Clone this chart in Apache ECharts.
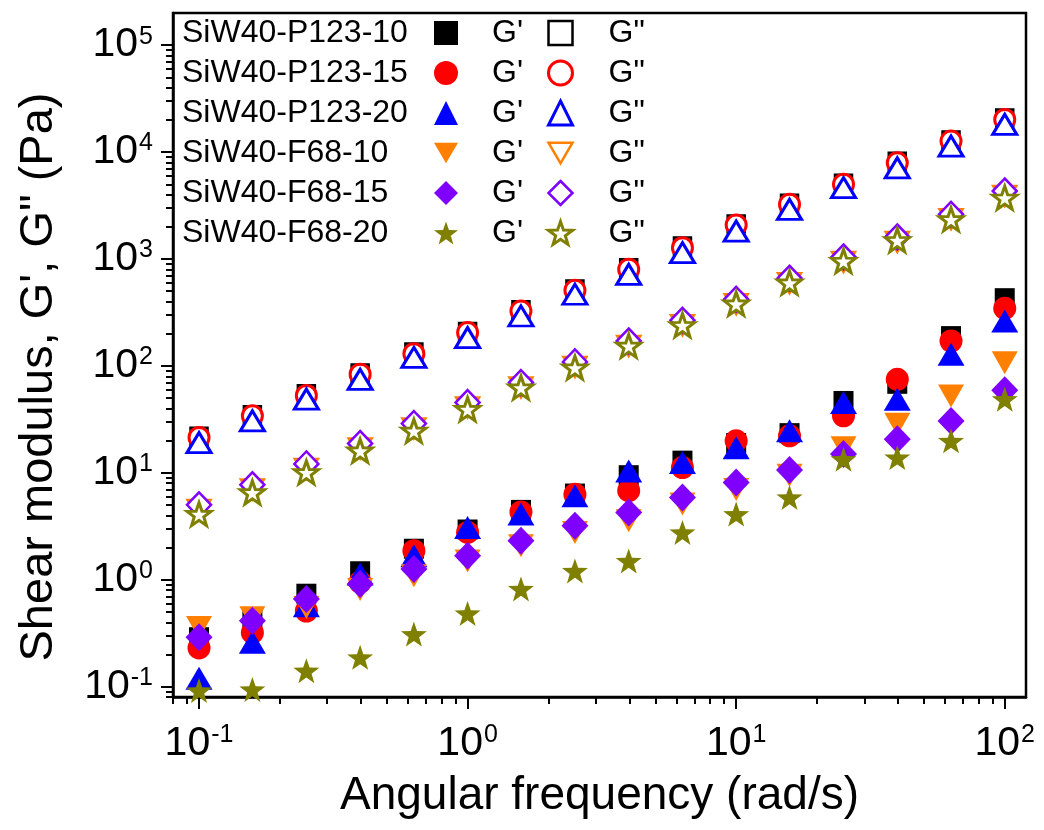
<!DOCTYPE html>
<html>
<head>
<meta charset="utf-8">
<script src="https://cdn.jsdelivr.net/npm/echarts@6/dist/echarts.min.js"></script>
<style>
  html, body { margin: 0; padding: 0; background: #fff; }
  #chart { width: 1044px; height: 830px; }
</style>
</head>
<body>
<div id="chart"></div>
<script>
const FONT = '"Liberation Sans", Arial, sans-serif'

// angular frequency (rad/s)
const freq = [0.1, 0.158, 0.251, 0.398, 0.631, 1, 1.58, 2.51, 3.98, 6.31, 10, 15.8, 25.1, 39.8, 63.1, 100]

// storage modulus G' (Pa)
const p123_10_G1 = [0.29, 0.44, 0.74, 1.2, 1.95, 2.95, 4.5, 6.4, 9.5, 13, 19, 23.5, 47, 68, 190, 430]
const p123_15_G1 = [0.23, 0.32, 0.51, 0.95, 1.87, 2.77, 4.3, 6.3, 6.8, 11.2, 19.9, 22.2, 34.1, 75, 171, 346]
const p123_20_G1 = [0.12, 0.26, 0.57, 1.13, 1.68, 3.08, 4.11, 6.1, 10.4, 12.5, 17.2, 24.7, 45.4, 48.8, 128.6, 263]
const f68_10_G1 = [0.358, 0.44, 0.55, 0.81, 1.09, 1.5, 2.08, 2.77, 3.56, 5.1, 7.0, 9.5, 17.2, 28.5, 52.4, 107]
const f68_15_G1 = [0.289, 0.414, 0.66, 0.91, 1.26, 1.68, 2.31, 3.2, 4.26, 5.88, 8.12, 10.6, 15, 20.6, 30.6, 59.3]
const f68_20_G1 = [0.092, 0.094, 0.141, 0.188, 0.31, 0.484, 0.82, 1.21, 1.5, 2.77, 4.11, 5.88, 13.4, 13.9, 19.9, 48.8]

// loss modulus G'' (Pa)
const p123_10_G2 = [22, 35, 55, 86, 135, 210, 335, 525, 830, 1320, 2120, 3330, 5100, 8200, 13000, 20800]
const p123_15_G2 = [21.4, 34.1, 53, 83.6, 130, 205, 326, 510, 801, 1276, 2080, 3245, 4990, 7945, 12680, 20200]
const p123_20_G2 = [19.2, 30.6, 48.9, 75, 120, 184, 293, 468, 719, 1145, 1827, 2913, 4645, 7130, 11380, 18150]
const f68_10_G2 = [4.5, 7.0, 10.9, 16.9, 26, 41, 63, 98, 154, 240, 378, 595, 940, 1445, 2356, 3890]
const f68_15_G2 = [5.02, 7.73, 12.1, 18.8, 28.9, 45.4, 69.8, 109, 171, 267, 420, 661, 1044, 1606, 2618, 4325]
const f68_20_G2 = [4.11, 6.55, 10.1, 16.1, 24.7, 39.4, 62.7, 96.4, 154, 240, 382, 601, 958, 1496, 2350, 3740]

const sampleNames = ['SiW40-P123-10', 'SiW40-P123-15', 'SiW40-P123-20', 'SiW40-F68-10', 'SiW40-F68-15', 'SiW40-F68-20']
const storage = [p123_10_G1, p123_15_G1, p123_20_G1, f68_10_G1, f68_15_G1, f68_20_G1]
const loss = [p123_10_G2, p123_15_G2, p123_20_G2, f68_10_G2, f68_15_G2, f68_20_G2]

const xTickLabels = [0.1, 1, 10, 100]
const yTickLabels = [0.1, 1, 10, 100, 1000, 10000, 100000]

const STAR = 'path://M50 0L61.76 33.82L97.55 34.55L69.02 56.18L79.39 90.45L50 70L20.61 90.45L30.98 56.18L2.45 34.55L38.24 33.82Z'
const DOWN_TRI = 'path://M0 0L100 0L50 86Z'
const markers = [
  { symbol: 'rect', color: '#000000', size: 20, hollowSize: 17, bw: 2.5 },
  { symbol: 'circle', color: '#ff0000', size: 23, hollowSize: 20, bw: 3 },
  { symbol: 'triangle', color: '#0000ff', size: [27, 23], hollowSize: [24, 20], bw: 3 },
  { symbol: DOWN_TRI, color: '#ff8000', size: [26, 23], hollowSize: [23, 20], bw: 2.5 },
  { symbol: 'diamond', color: '#8000ff', size: [27, 28], hollowSize: [24, 25], bw: 2.5 },
  { symbol: STAR, color: '#808000', size: [26, 25], hollowSize: [24, 23], bw: 3 },
]

function minorTicks(lo, hi) {
  const out = []
  for (let e = lo; e <= hi; e++) {
    for (let k = 2; k <= 9; k++) out.push(k * Math.pow(10, e))
  }
  return out
}
const xMinor = [0.08, 0.09].concat(minorTicks(-1, 1))
const yMinor = [0.08, 0.09].concat(minorTicks(-1, 4))

const supLabel = (v) => `{a|10}{b|${Math.round(Math.log10(v))}}`
const labelRich = {
  a: { fontSize: 41, lineHeight: 42, fontFamily: FONT, color: '#000' },
  b: { fontSize: 25, lineHeight: 25, padding: [0, 0, 17, 1], fontFamily: FONT, color: '#000' },
}

const X_MIN = 0.08, X_MAX = 120, Y_MIN = 0.08, Y_MAX = 200000

function styleFor(m, hollow) {
  return hollow
    ? { color: '#ffffff', borderColor: m.color, borderWidth: m.bw, opacity: 1 }
    : { color: m.color, borderWidth: 0, opacity: 1 }
}

function mk(i, hollow) {
  const m = markers[i]
  const vals = hollow ? loss[i] : storage[i]
  return {
    name: sampleNames[i] + (hollow ? ' G"' : " G'"),
    type: 'scatter',
    xAxisIndex: 0,
    yAxisIndex: 0,
    data: freq.map((f, j) => [f, vals[j]]),
    symbol: m.symbol,
    symbolSize: hollow ? m.hollowSize : m.size,
    itemStyle: styleFor(m, hollow),
    emphasis: { disabled: true },
  }
}

const series = []
sampleNames.forEach((_, i) => {
  series.push(mk(i, false))
  series.push(mk(i, true))
})

const legendBase = {
  orient: 'vertical',
  top: 17,
  padding: 0,
  itemWidth: 24,
  itemHeight: 24,
  itemGap: 8,
  selectedMode: false,
}

function legendItems(hollow) {
  return sampleNames.map((n, i) => ({
    name: n + (hollow ? ' G"' : " G'"),
    icon: markers[i].symbol,
    itemStyle: styleFor(markers[i], hollow),
  }))
}

const chart = echarts.init(document.getElementById('chart'))
chart.setOption({
  backgroundColor: '#fff',
  animation: false,
  grid: { left: 173, right: 18, top: 13, bottom: 133, show: true, borderColor: '#000', borderWidth: 2.5 },
  legend: [
    Object.assign({}, legendBase, {
      left: 434,
      data: legendItems(false),
      formatter: () => "G'",
      textStyle: { fontSize: 32, lineHeight: 32, fontFamily: FONT, color: '#000', padding: [0, 0, 0, 29] },
    }),
    Object.assign({}, legendBase, {
      left: 547,
      data: legendItems(true),
      itemStyle: { borderWidth: 3 },
      formatter: () => 'G"',
      textStyle: { fontSize: 32, lineHeight: 32, fontFamily: FONT, color: '#000', padding: [0, 0, 0, 31] },
    }),
  ],
  graphic: sampleNames.map((n, i) => ({
    type: 'text',
    x: 182,
    y: 33 + 40 * i,
    style: { text: n, font: '32px ' + FONT, fill: '#000', verticalAlign: 'middle' },
  })),
  xAxis: [
    {
      type: 'log', min: X_MIN, max: X_MAX, position: 'bottom',
      name: 'Angular frequency (rad/s)', nameLocation: 'middle', nameGap: 76,
      nameTextStyle: { fontSize: 46, fontFamily: FONT, color: '#000' },
      axisLine: { lineStyle: { color: '#000', width: 2.5 } },
      axisTick: { customValues: xTickLabels, length: 12, lineStyle: { color: '#000', width: 2 } },
      axisLabel: { customValues: xTickLabels, formatter: supLabel, rich: labelRich, margin: 26 },
      splitLine: { show: false },
    },
    {
      type: 'log', min: X_MIN, max: X_MAX, position: 'bottom',
      axisLine: { show: false },
      axisTick: { customValues: xMinor, length: 7, lineStyle: { color: '#000', width: 2 } },
      axisLabel: { show: false },
      splitLine: { show: false },
    },
  ],
  yAxis: [
    {
      type: 'log', min: Y_MIN, max: Y_MAX, position: 'left',
      name: 'Shear modulus, G\', G" (Pa)', nameLocation: 'middle', nameGap: 110,
      nameTextStyle: { fontSize: 47, fontFamily: FONT, color: '#000', padding: [0, 44, 0, 0] },
      axisLine: { lineStyle: { color: '#000', width: 2.5 } },
      axisTick: { customValues: yTickLabels, length: 12, lineStyle: { color: '#000', width: 2 } },
      axisLabel: { customValues: yTickLabels, formatter: supLabel, rich: labelRich, margin: 20 },
      splitLine: { show: false },
    },
    {
      type: 'log', min: Y_MIN, max: Y_MAX, position: 'left',
      axisLine: { show: false },
      axisTick: { customValues: yMinor, length: 7, lineStyle: { color: '#000', width: 2 } },
      axisLabel: { show: false },
      splitLine: { show: false },
    },
  ],
  series,
})
</script>
</body>
</html>
